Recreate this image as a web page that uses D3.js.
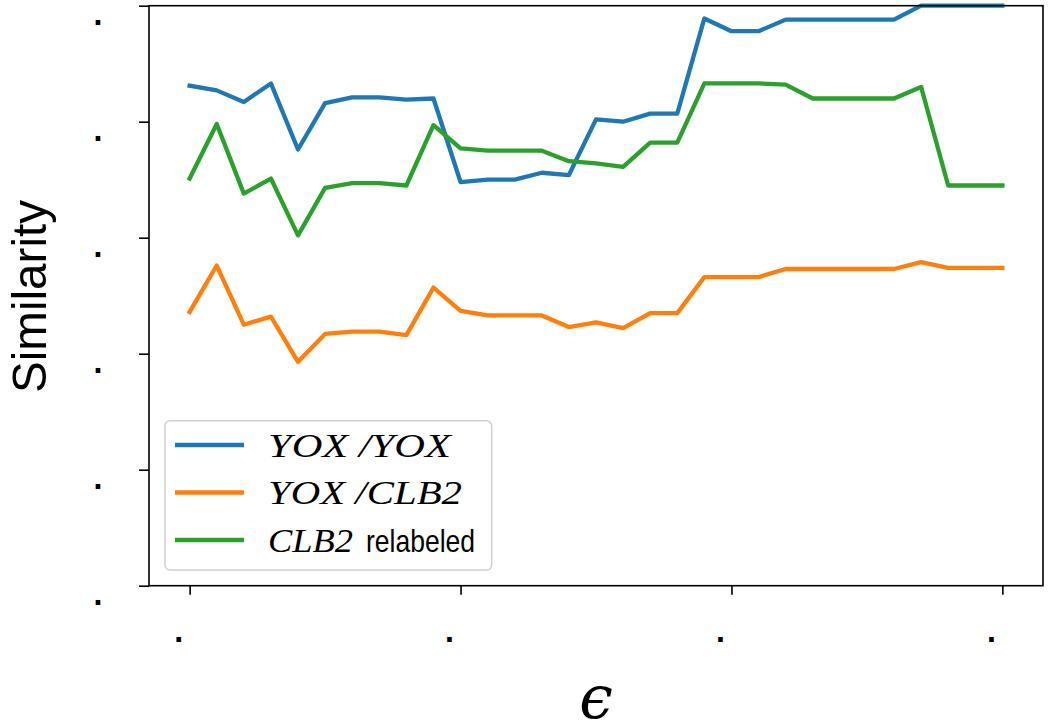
<!DOCTYPE html>
<html>
<head>
<meta charset="utf-8">
<script src="https://cdn.jsdelivr.net/npm/d3@7"></script>
<style>
  body { margin: 0; background: #fff; }
  svg { display: block; }
</style>
</head>
<body>
<svg id="chart" width="1050" height="727"></svg>
<script>
// epsilon steps 0..30
var eps = d3.range(0, 31);

var yoxYox = [0.931, 0.927, 0.917, 0.933, 0.876, 0.916, 0.921, 0.921, 0.919, 0.920,
              0.848, 0.850, 0.850, 0.856, 0.854, 0.902, 0.900, 0.907, 0.907, 0.989,
              0.978, 0.978, 0.988, 0.988, 0.988, 0.988, 0.988, 1.000, 1.000, 1.000, 1.000];
var yoxClb2 = [0.736, 0.776, 0.725, 0.732, 0.693, 0.717, 0.719, 0.719, 0.716, 0.757,
               0.737, 0.733, 0.733, 0.733, 0.723, 0.727, 0.722, 0.735, 0.735, 0.766,
               0.766, 0.766, 0.773, 0.773, 0.773, 0.773, 0.773, 0.779, 0.774, 0.774, 0.774];
var clb2Relabeled = [0.851, 0.898, 0.838, 0.851, 0.802, 0.843, 0.847, 0.847, 0.845, 0.897,
                     0.877, 0.875, 0.875, 0.875, 0.866, 0.864, 0.861, 0.882, 0.882, 0.933,
                     0.933, 0.933, 0.932, 0.920, 0.920, 0.920, 0.920, 0.930, 0.845, 0.845, 0.845];

var xTicks = [0, 10, 20, 30];
var yTicks = [0.5, 0.6, 0.7, 0.8, 0.9, 1.0];

var series = [
  { name: "yoxYox", values: yoxYox, color: "#1f77b4" },
  { name: "yoxClb2", values: yoxClb2, color: "#ff7f0e" },
  { name: "clb2", values: clb2Relabeled, color: "#2ca02c" }
];

var svg = d3.select("#chart");
var plotLeft = 149, plotRight = 1043, plotTop = 5.7, plotBottom = 585.7;

var x = d3.scaleLinear().domain([-1.5, 31.5]).range([plotLeft, plotRight]);
var y = d3.scaleLinear().domain([0.5, 1.0]).range([plotBottom, plotTop]);

var line = d3.line()
  .x(function(d, i) { return x(eps[i]); })
  .y(function(d) { return y(d); });

svg.selectAll("path.series")
  .data(series)
  .enter()
  .append("path")
  .attr("class", "series")
  .attr("d", function(s) { return line(s.values); })
  .attr("fill", "none")
  .attr("stroke", function(s) { return s.color; })
  .attr("stroke-width", 4.3)
  .attr("stroke-linejoin", "round")
  .attr("stroke-linecap", "square");

// axes, tick labels come out as dots
var gx = svg.append("g")
  .attr("transform", "translate(0," + plotBottom + ")")
  .call(d3.axisBottom(x).tickValues(xTicks).tickSize(9).tickFormat(function() { return "."; }));
gx.select(".domain").remove();
gx.selectAll("line").attr("stroke", "#000").attr("stroke-width", 1.6);
gx.selectAll("text")
  .attr("x", -11.5).attr("y", 56.5).attr("dy", null)
  .attr("text-anchor", "middle")
  .style("font-family", "DejaVu Sans").style("font-weight", "bold").style("font-size", "26px").attr("fill", "#000");

var gy = svg.append("g")
  .attr("transform", "translate(" + plotLeft + ",0)")
  .call(d3.axisLeft(y).tickValues(yTicks).tickSize(10).tickFormat(function() { return "."; }));
gy.select(".domain").remove();
gy.selectAll("line").attr("stroke", "#000").attr("stroke-width", 1.6);
gy.selectAll("text")
  .attr("x", -51).attr("y", 18.5).attr("dy", null)
  .attr("text-anchor", "middle")
  .style("font-family", "DejaVu Sans").style("font-weight", "bold").style("font-size", "26px").attr("fill", "#000");

// frame
svg.append("rect")
  .attr("x", plotLeft).attr("y", plotTop)
  .attr("width", plotRight - plotLeft).attr("height", plotBottom - plotTop)
  .attr("fill", "none").attr("stroke", "#000").attr("stroke-width", 1.6);

// axis labels
svg.append("text")
  .attr("transform", "translate(46,296.5) rotate(-90)")
  .attr("text-anchor", "middle")
  .attr("textLength", 193).attr("lengthAdjust", "spacingAndGlyphs")
  .style("font-family", "Liberation Sans").style("font-size", "49px")
  .text("Similarity");

svg.append("text")
  .attr("x", (plotLeft + plotRight) / 2).attr("y", 718)
  .attr("text-anchor", "middle")
  .style("font-family", "DejaVu Serif").style("font-style", "italic").style("font-size", "60px")
  .text("\u03F5");

// legend
var legend = svg.append("g");
legend.append("rect")
  .attr("x", 165).attr("y", 420.7).attr("width", 326.7).attr("height", 149.3)
  .attr("rx", 5).attr("fill", "#fff").attr("fill-opacity", 0.8)
  .attr("stroke", "#d0d0d0").attr("stroke-width", 1.5);

var legendRows = [
  { color: "#1f77b4", math: "YOX /YOX", mathLen: 183, rest: null },
  { color: "#ff7f0e", math: "YOX /CLB2", mathLen: 194, rest: null },
  { color: "#2ca02c", math: "CLB2", mathLen: 85, rest: "relabeled" }
];

legendRows.forEach(function(r, i) {
  var ly = 445 + i * 47.5;
  legend.append("line")
    .attr("x1", 175).attr("x2", 244).attr("y1", ly).attr("y2", ly)
    .attr("stroke", r.color).attr("stroke-width", 4.3);
  legend.append("text")
    .attr("x", 268).attr("y", ly + 11.5)
    .attr("textLength", r.mathLen).attr("lengthAdjust", "spacingAndGlyphs")
    .style("font-family", "Liberation Serif").style("font-style", "italic").style("font-size", "33px")
    .text(r.math);
  if (r.rest) {
    legend.append("text")
      .attr("x", 366).attr("y", ly + 11.5)
      .attr("textLength", 109).attr("lengthAdjust", "spacingAndGlyphs")
      .style("font-family", "Liberation Sans").style("font-size", "32px")
      .text(r.rest);
  }
});
</script>
</body>
</html>
